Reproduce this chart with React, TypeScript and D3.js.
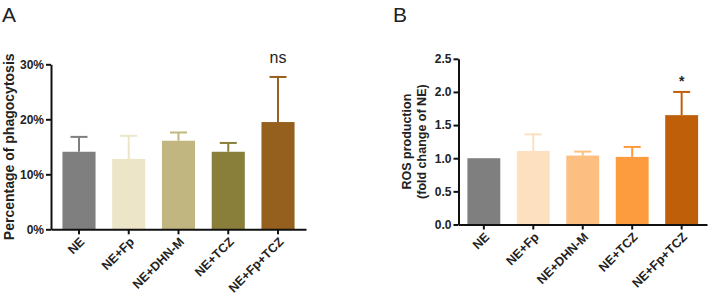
import { useEffect, useRef } from "react";
import * as d3 from "d3";

const categories = ["NE", "NE+Fp", "NE+DHN-M", "NE+TCZ", "NE+Fp+TCZ"];

// phagocytosis (fraction), mean and SD
const phagoMean = [0.141, 0.128, 0.161, 0.141, 0.195];
const phagoSd = [0.027, 0.042, 0.015, 0.016, 0.082];
const phagoTicks = [0, 0.1, 0.2, 0.3];
const phagoColors = ["#7f7f7f", "#ece5c8", "#c1b67f", "#8a7f3a", "#955f1e"];

// ROS fold change, mean and SD
const rosMean = [1.0, 1.11, 1.04, 1.02, 1.65];
const rosSd = [0, 0.25, 0.06, 0.15, 0.35];
const rosTicks = [0, 0.5, 1.0, 1.5, 2.0, 2.5];
const rosColors = ["#7f7f7f", "#fde0c0", "#fdbf81", "#fd9c3e", "#c05f0a"];

const FONT = "'Liberation Sans', Arial, sans-serif";

type Panel = {
  letter: string;
  letterX: number;
  mean: number[];
  sd: number[];
  colors: string[];
  ticks: number[];
  tickFormat: (v: number) => string;
  yMax: number;
  xRange: [number, number];
  padOuter: number;
  yRange: [number, number];
  titleLines: string[];
  titleX: number;
  titleSize: number;
  sig: string;
  sigSize: number;
  sigBold: boolean;
  sigGap: number;
};

const panels: Panel[] = [
  {
    letter: "A",
    letterX: 2,
    mean: phagoMean,
    sd: phagoSd,
    colors: phagoColors,
    ticks: phagoTicks,
    tickFormat: (v) => `${Math.round(v * 100)}%`,
    yMax: 0.3,
    xRange: [51, 306],
    padOuter: 0.23,
    yRange: [229.3, 64.3],
    titleLines: ["Percentage of phagocytosis"],
    titleX: 14,
    titleSize: 14,
    sig: "ns",
    sigSize: 16,
    sigBold: false,
    sigGap: 14,
  },
  {
    letter: "B",
    letterX: 393,
    mean: rosMean,
    sd: rosSd,
    colors: rosColors,
    ticks: rosTicks,
    tickFormat: (v) => v.toFixed(1),
    yMax: 2.5,
    xRange: [458.5, 707],
    padOuter: 0.18,
    yRange: [224.5, 58.8],
    titleLines: ["ROS production", "(fold change of NE)"],
    titleX: 411,
    titleSize: 12.5,
    sig: "*",
    sigSize: 14,
    sigBold: true,
    sigGap: 6,
  },
];

const App = () => {
  const svgRef = useRef<SVGSVGElement>(null);

  useEffect(() => {
    const svg = d3.select(svgRef.current);
    svg.selectAll("*").remove();

    panels.forEach((p) => {
      const g = svg.append("g");

      const x = d3
        .scaleBand()
        .domain(categories)
        .range(p.xRange)
        .paddingInner(0.335)
        .paddingOuter(p.padOuter);

      const y = d3.scaleLinear().domain([0, p.yMax]).range(p.yRange);

      // bars
      g.selectAll(".bar")
        .data(categories)
        .enter()
        .append("rect")
        .attr("x", (d) => x(d) || 0)
        .attr("y", (_, i) => y(p.mean[i]))
        .attr("width", x.bandwidth())
        .attr("height", (_, i) => y(0) - y(p.mean[i]))
        .attr("fill", (_, i) => p.colors[i]);

      // upper error bars
      categories.forEach((c, i) => {
        if (p.sd[i] <= 0) return;
        const cx = (x(c) || 0) + x.bandwidth() / 2;
        const top = y(p.mean[i] + p.sd[i]);
        g.append("line")
          .attr("x1", cx)
          .attr("x2", cx)
          .attr("y1", y(p.mean[i]))
          .attr("y2", top)
          .attr("stroke", p.colors[i])
          .attr("stroke-width", 2);
        g.append("line")
          .attr("x1", cx - 8.5)
          .attr("x2", cx + 8.5)
          .attr("y1", top)
          .attr("y2", top)
          .attr("stroke", p.colors[i])
          .attr("stroke-width", 2);
      });

      // y axis
      const yAxis = g
        .append("g")
        .attr("transform", `translate(${p.xRange[0]},0)`)
        .call(
          d3
            .axisLeft(y)
            .tickValues(p.ticks)
            .tickFormat((v) => p.tickFormat(+v))
            .tickSize(5)
            .tickSizeOuter(0)
            .tickPadding(2)
        );
      yAxis.selectAll("path, line").attr("stroke", "#111").attr("stroke-width", 2);
      yAxis
        .selectAll("text")
        .attr("fill", "#222")
        .style("font", `bold 12px ${FONT}`);

      // x axis
      const xAxis = g
        .append("g")
        .attr("transform", `translate(0,${p.yRange[0]})`)
        .call(d3.axisBottom(x).tickSize(5).tickSizeOuter(0));
      xAxis.selectAll("path, line").attr("stroke", "#111").attr("stroke-width", 2);
      xAxis
        .selectAll("text")
        .attr("x", 0)
        .attr("y", 0)
        .attr("dy", "0.71em")
        .attr("transform", "translate(0,7) rotate(-45)")
        .attr("text-anchor", "end")
        .attr("fill", "#222")
        .style("font", `bold 12.5px ${FONT}`);

      // y title
      const midY = (p.yRange[0] + p.yRange[1]) / 2;
      const title = g
        .append("text")
        .attr("transform", `translate(${p.titleX},${midY}) rotate(-90)`)
        .attr("text-anchor", "middle")
        .attr("fill", "#222")
        .style("font", `bold ${p.titleSize}px ${FONT}`);
      p.titleLines.forEach((line, i) => {
        title
          .append("tspan")
          .attr("x", 0)
          .attr("dy", i === 0 ? 0 : "1.2em")
          .text(line);
      });

      // significance mark over the last group
      const last = categories[categories.length - 1];
      const li = categories.length - 1;
      g.append("text")
        .attr("x", (x(last) || 0) + x.bandwidth() / 2)
        .attr("y", y(p.mean[li] + p.sd[li]) - p.sigGap)
        .attr("text-anchor", "middle")
        .attr("fill", "#222")
        .style("font", `${p.sigBold ? "bold " : ""}${p.sigSize}px ${FONT}`)
        .text(p.sig);

      // panel letter
      g.append("text")
        .attr("x", p.letterX)
        .attr("y", 22)
        .attr("fill", "#222")
        .style("font", `21px ${FONT}`)
        .text(p.letter);
    });
  }, []);

  return (
    <svg
      ref={svgRef}
      width={708}
      height={296}
      style={{ position: "absolute", left: 0, top: 0, background: "#fff" }}
    />
  );
};

export default App;
